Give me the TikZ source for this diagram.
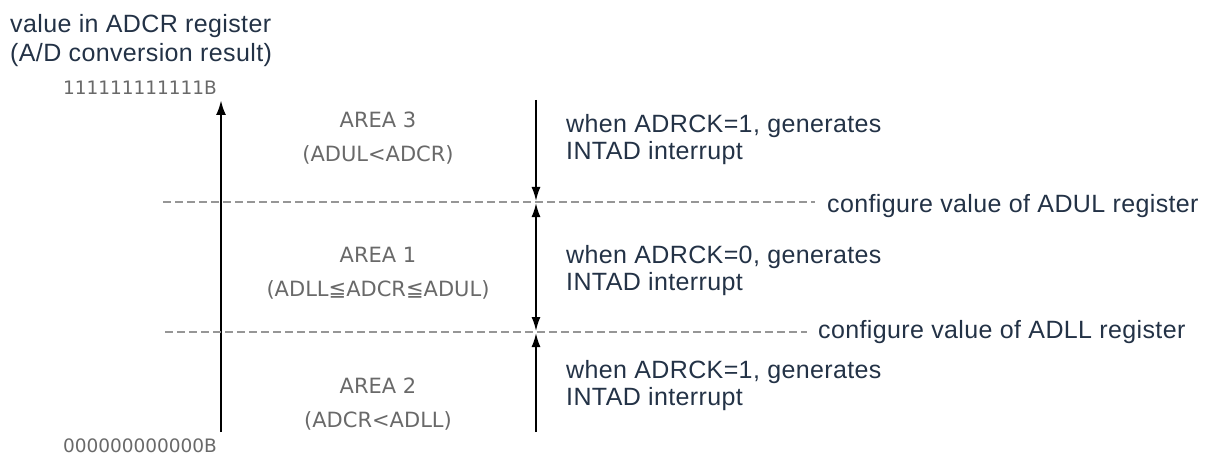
\documentclass[tikz,border=0pt]{standalone}
\usepackage{fontspec}
\setmainfont{Liberation Sans}[LetterSpace=1.5]
\newfontfamily\areafont{DejaVu Sans}
\usetikzlibrary{arrows.meta}
\definecolor{navy}{RGB}{35,50,70}
\definecolor{lightgrey}{RGB}{105,105,105}
\definecolor{dashgrey}{RGB}{150,150,150}
\tikzset{
  bluetext/.style={text=navy, inner sep=0pt, anchor=base west, font=\fontsize{25}{30}\selectfont},
  areatext/.style={text=lightgrey, inner sep=0pt, anchor=base, font=\areafont\fontsize{21}{25}\selectfont},
  bintext/.style={text=lightgrey, inner sep=0pt, anchor=base, font=\areafont\fontsize{18.5}{22}\selectfont},
  mainarrow/.style={line width=2.5pt, -{Latex[length=15pt,width=10pt]}},
  sidearrow/.style={line width=1.8pt, -{Latex[length=14pt,width=9pt]}},
  sidedouble/.style={line width=1.8pt, {Latex[length=14pt,width=9pt]}-{Latex[length=14pt,width=9pt]}},
  limitline/.style={draw=dashgrey, line width=1.6pt, dash pattern=on 8pt off 4pt},
}
\begin{document}
\begin{tikzpicture}[x=1pt,y=-1pt]
\useasboundingbox (0,0) rectangle (1209,457);
% title
\node[bluetext] (t1) at (10,33) {value in ADCR register};
\node[bluetext] (t2) at (10,62) {(A/D conversion result)};
% binary limits
\node[bintext] (max) at (140,95) {111111111111B};
\node[bintext] (min) at (140,452) {000000000000B};
% main axis
\coordinate (axbot) at (221,432);
\coordinate (axtop) at (221,100);
\draw[mainarrow] (axbot) -- (axtop);
% dashed limit lines
\coordinate (du1) at (163,202);
\coordinate (du2) at (815,202);
\coordinate (dl1) at (165,332);
\coordinate (dl2) at (807,332);
\draw[limitline] (du1) -- (du2);
\draw[limitline] (dl1) -- (dl2);
% area labels
\node[areatext] (a3) at (378,128) {AREA 3};
\node[areatext] (a3b) at (378,162) {(ADUL<ADCR)};
\node[areatext] (a1) at (378,262) {AREA 1};
\node[areatext] (a1b) at (378,296) {(ADLL≦ADCR≦ADUL)};
\node[areatext] (a2) at (378,393) {AREA 2};
\node[areatext] (a2b) at (378,427) {(ADCR<ADLL)};
% right arrows
\coordinate (r1) at (536,100);
\coordinate (ru) at (536,202);
\coordinate (rl) at (536,332);
\coordinate (r4) at (536,432);
\draw[sidearrow, shorten >=1pt] (r1) -- (ru);
\draw[sidedouble, shorten >=1pt, shorten <=1pt] (ru) -- (rl);
\draw[sidearrow, shorten >=1pt] (r4) -- (rl);
% right texts
\node[bluetext] (w1) at (566,133) {when ADRCK=1, generates};
\node[bluetext] (w1b) at (566,160) {INTAD interrupt};
\node[bluetext] (w2) at (566,263) {when ADRCK=0, generates};
\node[bluetext] (w2b) at (566,290) {INTAD interrupt};
\node[bluetext] (w3) at (566,378) {when ADRCK=1, generates};
\node[bluetext] (w3b) at (566,405) {INTAD interrupt};
\node[bluetext] (cu) at (827,212) {configure value of ADUL register};
\node[bluetext] (cl) at (818,338) {configure value of ADLL register};
\end{tikzpicture}
\end{document}
